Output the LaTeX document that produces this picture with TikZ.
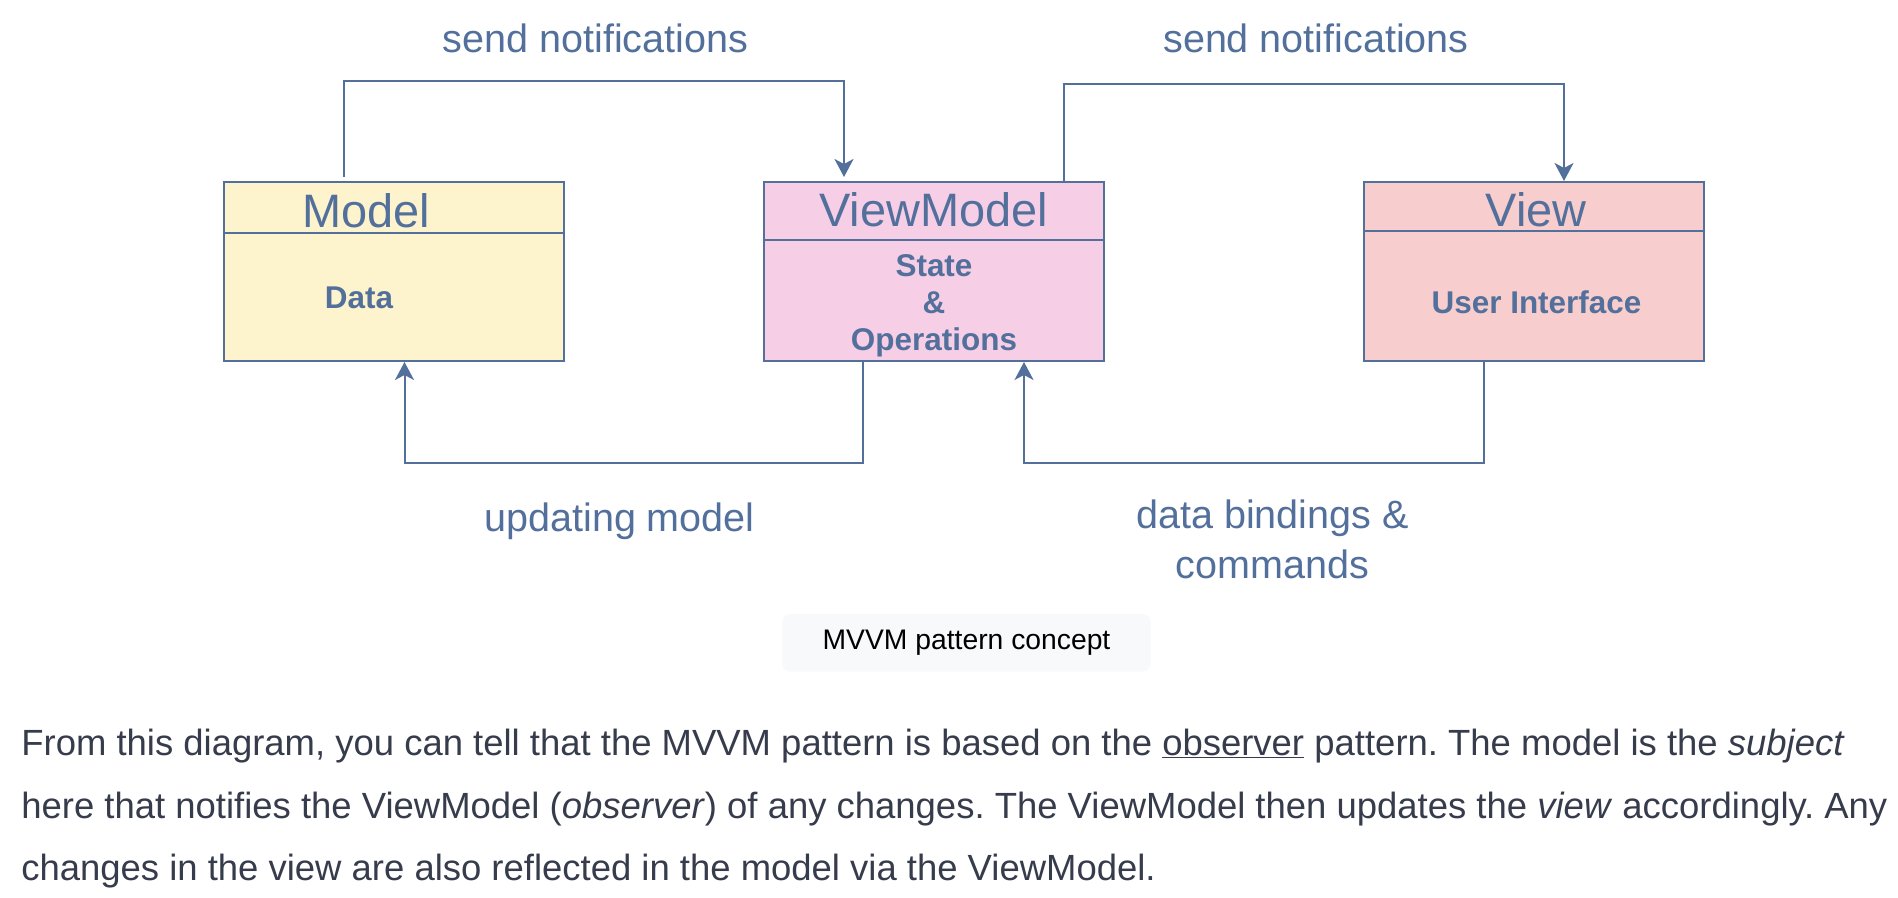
\documentclass[tikz,border=0pt]{standalone}
\usepackage{fontspec}
\setmainfont{Liberation Sans}
\usetikzlibrary{arrows.meta, positioning, calc}
\frenchspacing

\definecolor{linecol}{RGB}{82,112,155}
\definecolor{modelfill}{RGB}{253,243,204}
\definecolor{vmfill}{RGB}{246,207,230}
\definecolor{viewfill}{RGB}{247,206,205}
\definecolor{textcol}{RGB}{54,60,75}
\definecolor{capfill}{RGB}{248,249,251}

\begin{document}
\begin{tikzpicture}[
    box/.style={draw=linecol, line width=1.14pt, minimum width=6.8cm, minimum height=3.58cm, inner sep=0pt},
    divider/.style={draw=linecol, line width=1.14pt},
    title/.style={text=linecol, font=\fontsize{26.7}{32}\selectfont, anchor=base, inner sep=0pt},
    body/.style={text=linecol, font=\fontsize{17.9}{20.8}\selectfont\bfseries, anchor=base, align=center, inner sep=0pt},
    lbl/.style={text=linecol, font=\fontsize{22.5}{28.2}\selectfont, anchor=base, align=center, inner sep=0pt},
    para/.style={text=textcol, font=\fontsize{20.75}{24}\selectfont, anchor=base west, inner sep=0pt},
    flow/.style={draw=linecol, line width=1.14pt, ->},
    >={Stealth[length=0.36cm, width=0.38cm, inset=0.1cm]}
]
\useasboundingbox (0,0) rectangle (37.96,-17.96);

% Boxes
\node[box, fill=modelfill] (model) at (7.88, -5.43) {};
\node[box, fill=vmfill] (vm) at (18.67, -5.43) {};
\node[box, fill=viewfill] (view) at (30.68, -5.43) {};

% Header lines
\draw[divider] ($(model.north west)+(0,-1.04)$) -- ($(model.north east)+(0,-1.04)$);
\draw[divider] ($(vm.north west)+(0,-1.18)$) -- ($(vm.north east)+(0,-1.18)$);
\draw[divider] ($(view.north west)+(0,-1.00)$) -- ($(view.north east)+(0,-1.00)$);

% Titles and contents
\node[title] (modeltitle) at (7.32, -4.554) {Model};
\node[title] (vmtitle) at (18.67, -4.54) {ViewModel};
\node[title] (viewtitle) at (30.72, -4.54) {View};
\node[body] (modeldata) at (7.18, -6.16) {Data};
\node[body] (vmops) at (18.68, -7.0) {State\\\&\\Operations};
\node[body] (viewui) at (30.73, -6.26) {User Interface};

% Connections
\draw[flow, shorten <=0.08cm, shorten >=0.08cm] ([xshift=-1cm]model.north) -- ++(0,2) -| ([xshift=-1.79cm]vm.north);
\draw[flow] ([xshift=2.61cm]vm.north) -- ++(0,1.93) -| ([xshift=0.6cm]view.north);
\draw[flow] ([xshift=-1.41cm]vm.south) -- ++(0,-2.01) -| ([xshift=0.21cm]model.south);
\draw[flow] ([xshift=-1.008cm]view.south) -- ++(0,-2.01) -| ([xshift=1.81cm]vm.south);

% Connection labels
\node[lbl] (sendleft) at (11.91, -1.046) {send notifications};
\node[lbl] (sendright) at (26.32, -1.046) {send notifications};
\node[lbl] (updating) at (12.39, -10.62) {updating model};
\node[lbl] (bindings) at (25.45, -11.56) {data bindings \&\\commands};

% Caption
\node[fill=capfill, rounded corners=0.16cm, minimum width=7.37cm, minimum height=1.15cm, inner sep=0pt, font=\fontsize{16.1}{19}\selectfont] (caption) at (19.33, -12.855) {MVVM pattern concept};

% Text below
\node[para] (line1) at (0.42, -15.1) {From this diagram, you can tell that the MVVM pattern is based on the \underline{observer} pattern. The model is the \textit{subject}};
\node[para] (line2) at (0.42, -16.36) {here that notifies the ViewModel (\textit{observer}) of any changes. The ViewModel then updates the \textit{view} accordingly. Any};
\node[para] (line3) at (0.42, -17.6) {changes in the view are also reflected in the model via the ViewModel.};

\end{tikzpicture}
\end{document}
